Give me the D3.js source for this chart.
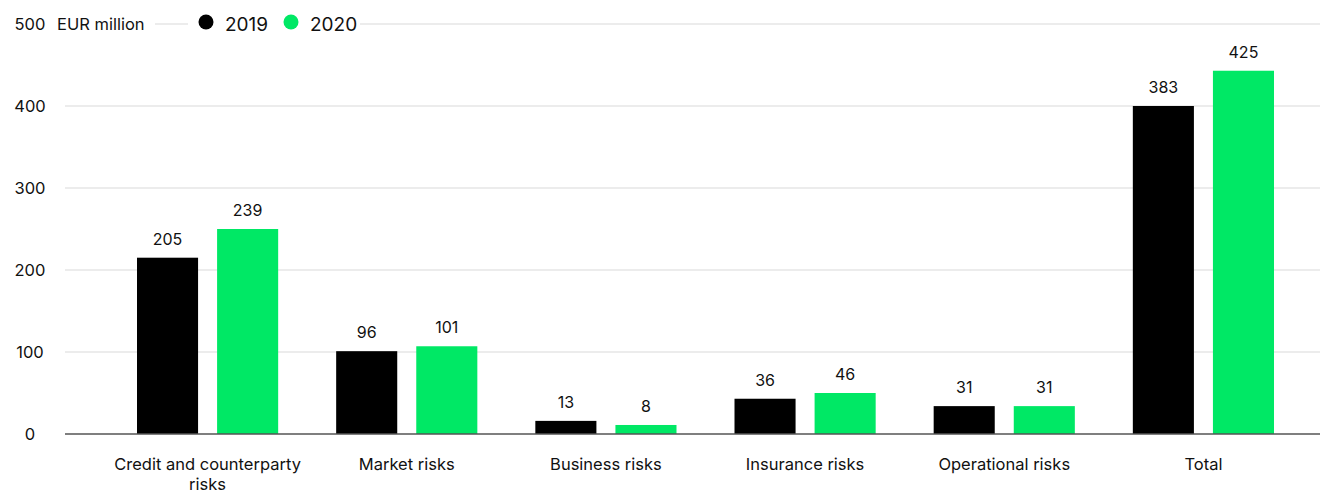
<!DOCTYPE html>
<html>
<head>
<meta charset="utf-8">
<script src="https://cdn.jsdelivr.net/npm/d3@7"></script>
<style>
  body { margin: 0; background: #fff; }
  svg { font-family: Inter, "Noto Sans", sans-serif; }
</style>
</head>
<body>
<div id="chart"></div>
<script>
// categories and series
var categories = ["Credit and counterparty risks", "Market risks", "Business risks", "Insurance risks", "Operational risks", "Total"];
var seriesNames = ["2019", "2020"];
var seriesColors = ["#000000", "#00e865"];
// printed labels
var labels2019 = [205, 96, 13, 36, 31, 383];
var labels2020 = [239, 101, 8, 46, 31, 425];
// bar heights as drawn against the axis
var bars2019 = [215, 101, 16, 43, 34, 400];
var bars2020 = [250, 107, 11, 50, 34, 443];
var yTicks = [0, 100, 200, 300, 400, 500];

var width = 1320, height = 493;

var svg = d3.select("#chart").append("svg")
    .attr("width", width)
    .attr("height", height);

var y = d3.scaleLinear().domain([0, 500]).range([434, 24]);

var x = d3.scaleBand().domain(categories).range([108, 1303]).padding(0);

var xSub = d3.scaleBand().domain(seriesNames)
    .range([29, x.bandwidth() - 29])
    .paddingInner(0.2375);

//gridlines
svg.append("g").selectAll("line")
    .data(yTicks.filter(function(d) { return d > 0; }))
    .enter().append("line")
    .attr("x1", 65).attr("x2", width)
    .attr("y1", function(d) { return y(d); })
    .attr("y2", function(d) { return y(d); })
    .attr("stroke", "#e6e6e6")
    .attr("stroke-width", 1.5);

// y labels
svg.append("g").selectAll("text")
    .data(yTicks)
    .enter().append("text")
    .attr("x", 30)
    .attr("y", function(d) { return y(d); })
    .attr("dy", "0.35em")
    .attr("text-anchor", "middle")
    .attr("font-size", 16.5)
    .attr("fill", "#111")
    .text(function(d) { return d; });

var data = categories.map(function(c, i) {
    return {
        cat: c,
        vals: [
            { s: "2019", bar: bars2019[i], label: labels2019[i], color: seriesColors[0] },
            { s: "2020", bar: bars2020[i], label: labels2020[i], color: seriesColors[1] }
        ]
    };
});

var group = svg.append("g").selectAll("g")
    .data(data)
    .enter().append("g")
    .attr("transform", function(d) { return "translate(" + x(d.cat) + ",0)"; });

group.selectAll("rect")
    .data(function(d) { return d.vals; })
    .enter().append("rect")
    .attr("x", function(d) { return xSub(d.s); })
    .attr("width", xSub.bandwidth())
    .attr("y", function(d) { return y(d.bar); })
    .attr("height", function(d) { return y(0) - y(d.bar); })
    .attr("fill", function(d) { return d.color; });

group.selectAll("text.val")
    .data(function(d) { return d.vals; })
    .enter().append("text")
    .attr("class", "val")
    .attr("x", function(d) { return xSub(d.s) + xSub.bandwidth() / 2; })
    .attr("y", function(d) { return y(d.bar) - 13; })
    .attr("text-anchor", "middle")
    .attr("font-size", 16)
    .attr("fill", "#111")
    .text(function(d) { return d.label; });

// baseline
svg.append("line")
    .attr("x1", 65).attr("x2", width)
    .attr("y1", y(0)).attr("y2", y(0))
    .attr("stroke", "#555")
    .attr("stroke-width", 1.5);

// category labels, wrapped
var catText = svg.append("g").selectAll("text")
    .data(categories)
    .enter().append("text")
    .attr("x", function(d) { return x(d) + x.bandwidth() / 2; })
    .attr("y", 470)
    .attr("text-anchor", "middle")
    .attr("font-size", 16.5)
    .attr("fill", "#111");

catText.each(function(d) {
    var t = d3.select(this);
    var words = d.split(" "), line = [];
    var tspan = t.append("tspan").attr("x", t.attr("x")).attr("dy", 0);
    words.forEach(function(w) {
        line.push(w);
        tspan.text(line.join(" "));
        if (tspan.node().getComputedTextLength() > 190 && line.length > 1) {
            line.pop();
            tspan.text(line.join(" "));
            line = [w];
            tspan = t.append("tspan").attr("x", t.attr("x")).attr("dy", 20).text(w);
        }
    });
});

// legend with white backing over top gridline
var legend = svg.append("g");
legend.append("rect").attr("x", 50).attr("y", 10).attr("width", 105).attr("height", 28).attr("fill", "#fff");
legend.append("rect").attr("x", 188).attr("y", 10).attr("width", 172).attr("height", 28).attr("fill", "#fff");
legend.append("text")
    .attr("x", 57).attr("y", y(500))
    .attr("dy", "0.35em")
    .attr("font-size", 16.5)
    .attr("fill", "#111")
    .text("EUR million");

var legX = [206, 291];
seriesNames.forEach(function(s, i) {
    legend.append("circle")
        .attr("cx", legX[i]).attr("cy", 22)
        .attr("r", 7.5)
        .attr("fill", seriesColors[i]);
    legend.append("text")
        .attr("x", legX[i] + 19).attr("y", y(500))
        .attr("dy", "0.38em")
        .attr("font-size", 19)
        .attr("fill", "#111")
        .text(s);
});
</script>
</body>
</html>
